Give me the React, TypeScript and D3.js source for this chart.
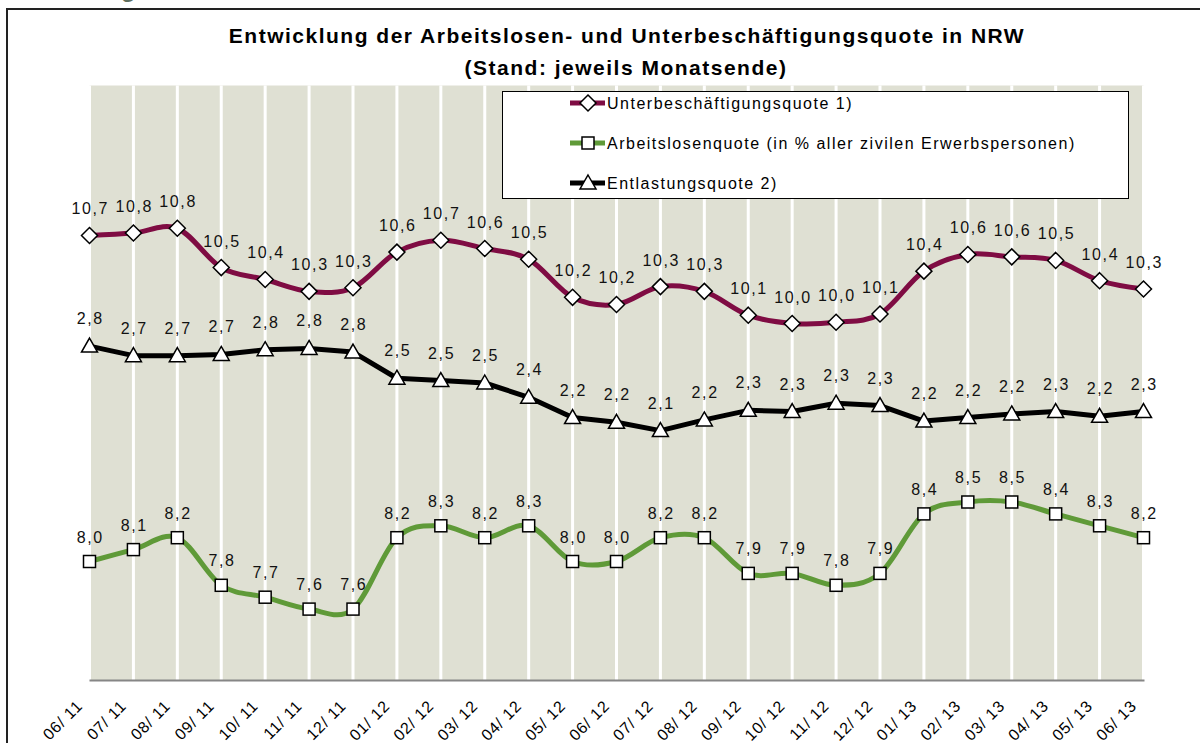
import * as d3 from 'd3'

const width = 1200
const height = 743

// Monate (Monatsende)
const months = [
  '06/ 11', '07/ 11', '08/ 11', '09/ 11', '10/ 11', '11/ 11', '12/ 11',
  '01/ 12', '02/ 12', '03/ 12', '04/ 12', '05/ 12', '06/ 12', '07/ 12', '08/ 12', '09/ 12', '10/ 12', '11/ 12', '12/ 12',
  '01/ 13', '02/ 13', '03/ 13', '04/ 13', '05/ 13', '06/ 13'
]

// Unterbeschäftigungsquote 1) - linke Achse
const unterbeschaeftigung = [
  10.74, 10.76, 10.8, 10.47, 10.37, 10.27, 10.3, 10.6, 10.7, 10.63, 10.54, 10.22, 10.16,
  10.31, 10.27, 10.07, 10.0, 10.01, 10.08, 10.44, 10.58, 10.56, 10.53, 10.36, 10.29
]

// Arbeitslosenquote - linke Achse
const arbeitslosen = [
  8.0, 8.1, 8.2, 7.8, 7.7, 7.6, 7.6, 8.2, 8.3, 8.2, 8.3, 8.0, 8.0,
  8.2, 8.2, 7.9, 7.9, 7.8, 7.9, 8.4, 8.5, 8.5, 8.4, 8.3, 8.2
]

// Entlastungsquote 2) - rechte Achse
const entlastung = [
  2.81, 2.73, 2.73, 2.74, 2.78, 2.79, 2.76, 2.54, 2.52, 2.5, 2.38, 2.21, 2.17,
  2.1, 2.19, 2.27, 2.26, 2.33, 2.31, 2.18, 2.21, 2.24, 2.26, 2.22, 2.26
]

const leftDomain = [7, 12]
const rightDomain = [0, 5]

const legendLabels = [
  'Unterbeschäftigungsquote 1)',
  'Arbeitslosenquote (in % aller zivilen Erwerbspersonen)',
  'Entlastungsquote 2)'
]

const plot = { left: 89.5, right: 1143.5, top: 85.5, bottom: 680.5 }

const font = 'Liberation Sans, Arial, sans-serif'
const maroon = '#7f0c43'
const green = '#5f9a38'

const fmt = (v: number) => v.toFixed(1).replace('.', ',')

const diamond = (x: number, y: number) =>
  `M${x},${y - 8}L${x + 8},${y}L${x},${y + 8}L${x - 8},${y}Z`
const triangle = (x: number, y: number) =>
  `M${x},${y - 8}L${x + 8},${y + 6}L${x - 8},${y + 6}Z`

function Marker({ kind, x, y }: { kind: string; x: number; y: number }) {
  if (kind === 'diamond') {
    return <path d={diamond(x, y)} fill="#fff" stroke="#000" strokeWidth={1.5} />
  }
  if (kind === 'square') {
    return <rect x={x - 6} y={y - 6} width={12} height={12} fill="#fff" stroke="#000" strokeWidth={1.5} />
  }
  return <path d={triangle(x, y)} fill="#fff" stroke="#000" strokeWidth={1.5} />
}

function App() {
  const xScale = d3.scalePoint<string>()
    .domain(months)
    .range([plot.left, plot.right])

  const yLeft = d3.scaleLinear()
    .domain(leftDomain)
    .range([plot.bottom, plot.top])

  const yRight = d3.scaleLinear()
    .domain(rightDomain)
    .range([plot.bottom, plot.top])

  const smooth = d3.line<number>()
    .x((_, i) => xScale(months[i]) as number)
    .curve(d3.curveCardinal.tension(0))

  const straight = d3.line<number>()
    .x((_, i) => xScale(months[i]) as number)
    .curve(d3.curveLinear)

  const series = [
    { values: unterbeschaeftigung, y: yLeft, color: maroon, kind: 'diamond', gen: smooth, dy: -21 },
    { values: arbeitslosen, y: yLeft, color: green, kind: 'square', gen: smooth, dy: -19 },
    { values: entlastung, y: yRight, color: '#000', kind: 'triangle', gen: straight, dy: -22 }
  ]

  return (
    <svg width={width} height={height}
      style={{ position: 'absolute', left: 0, top: 0, display: 'block', background: '#fff' }}
      fontFamily={font}>
      {/* Rest einer Überschrift oberhalb */}
      <text x={121} y={-3} fontSize={24} fontWeight="bold" fill="#5f6f5f">g</text>

      <rect x={7} y={9} width={1250} height={800} fill="#fff" stroke="#222" strokeWidth={2} />

      <text x={627} y={43} textAnchor="middle" fontSize={21} fontWeight="bold" letterSpacing={1.5}>
        Entwicklung der Arbeitslosen- und Unterbeschäftigungsquote in NRW
      </text>
      <text x={626} y={75} textAnchor="middle" fontSize={21} fontWeight="bold" letterSpacing={1.5}>
        (Stand: jeweils Monatsende)
      </text>

      <rect x={plot.left} y={plot.top} width={plot.right - plot.left} height={plot.bottom - plot.top} fill="#dfe0d3" />
      {months.map(m => (
        <line key={m} x1={xScale(m)} x2={xScale(m)} y1={plot.top} y2={plot.bottom} stroke="#fff" strokeWidth={3} />
      ))}
      <line x1={plot.left} x2={plot.right + 1} y1={plot.bottom} y2={plot.bottom} stroke="#868686" strokeWidth={2} />

      {months.map(m => (
        <text key={m} transform={`translate(${(xScale(m) as number) - 6},707) rotate(-45)`}
          textAnchor="end" fontSize={16} letterSpacing={0.8} fill="#000">{m}</text>
      ))}

      {series.map((s, si) => (
        <g key={si}>
          <path d={s.gen.y(v => s.y(v))(s.values) as string} fill="none" stroke={s.color}
            strokeWidth={5} strokeLinejoin="round" strokeLinecap="round" />
          {s.values.map((v, i) => (
            <Marker key={i} kind={s.kind} x={xScale(months[i]) as number} y={s.y(v)} />
          ))}
          {s.values.map((v, i) => (
            <text key={'l' + i} x={(xScale(months[i]) as number) + 0.8} y={s.y(v) + s.dy}
              textAnchor="middle" fontSize={16} letterSpacing={1.6} fill="#111">
              {fmt(v)}
            </text>
          ))}
        </g>
      ))}

      <g>
        <rect x={502.5} y={91.5} width={626} height={107} fill="#fff" stroke="#000" strokeWidth={1} />
        {series.map((s, i) => {
          const ly = 103 + i * 40
          return (
            <g key={i}>
              <line x1={570} x2={605} y1={ly} y2={ly} stroke={s.color} strokeWidth={5} />
              <Marker kind={s.kind} x={588} y={ly} />
              <text x={607} y={ly + 5.5} fontSize={16} letterSpacing={1.5} fill="#000">{legendLabels[i]}</text>
            </g>
          )
        })}
      </g>
    </svg>
  )
}

export default App
